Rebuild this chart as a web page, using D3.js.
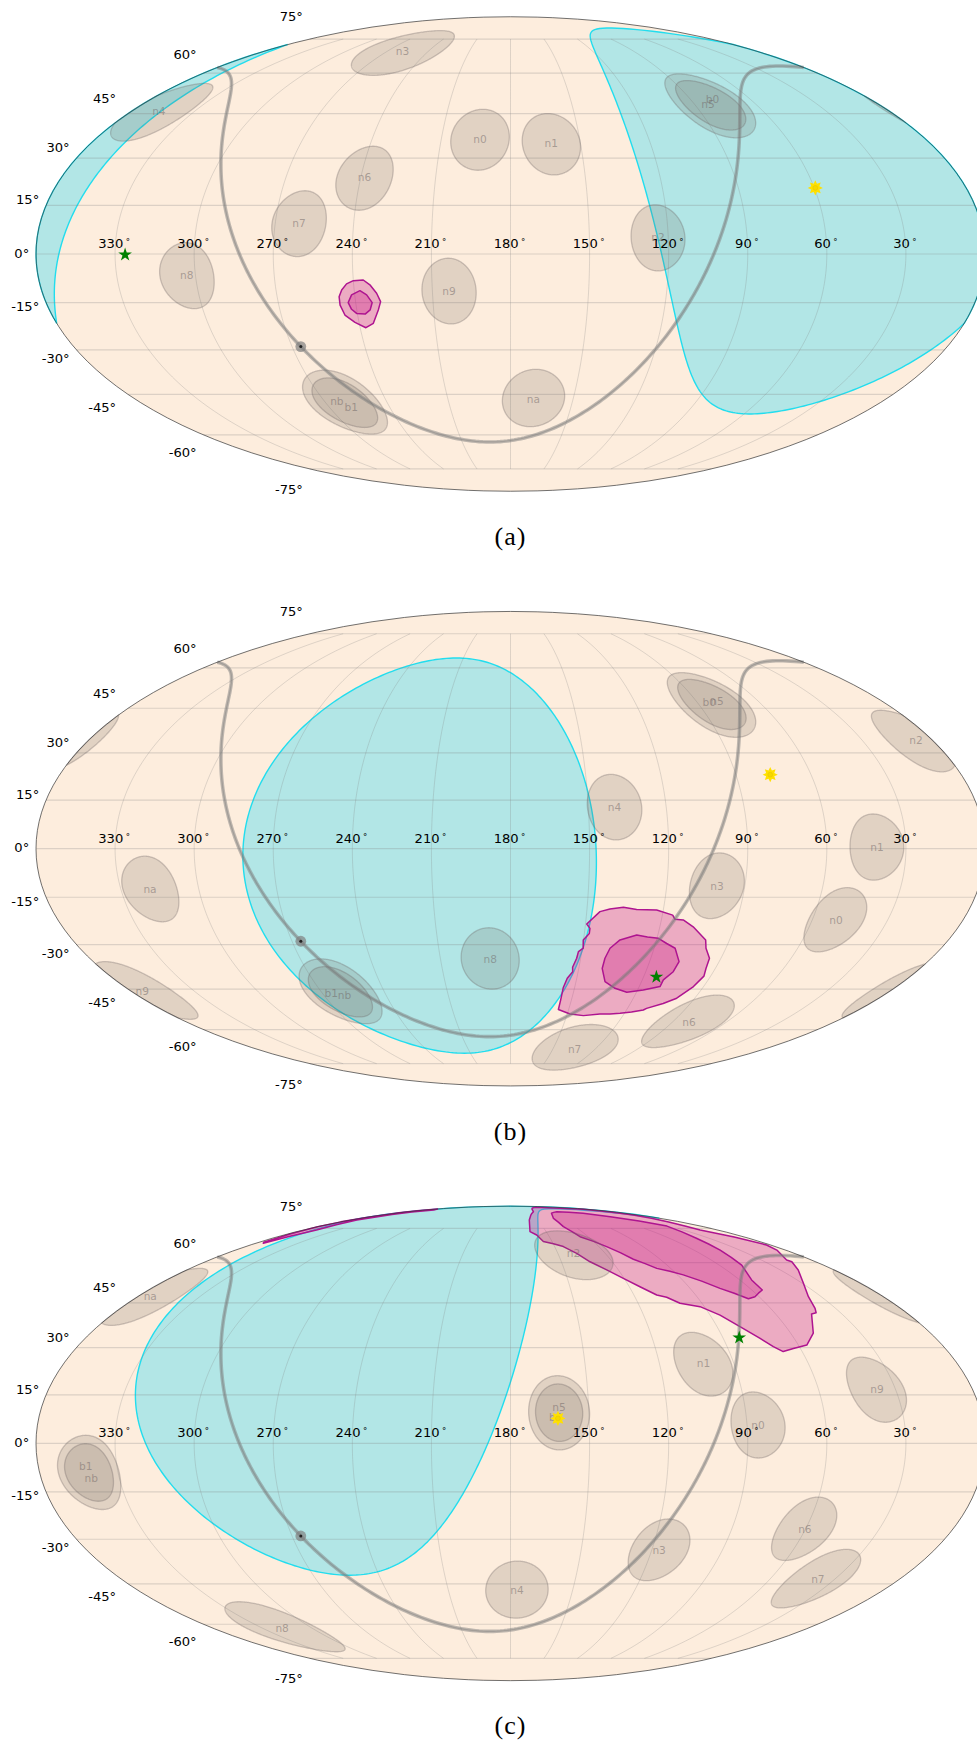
<!DOCTYPE html>
<html>
<head>
<meta charset="utf-8">
<script src="https://cdnjs.cloudflare.com/ajax/libs/d3/7.8.5/d3.min.js"></script>
<style>
  html, body { margin: 0; padding: 0; background: #ffffff; overflow: hidden; }
  svg { display: block; }
</style>
</head>
<body>
<svg id="chart" width="977" height="1743"></svg>
<script>
// Sky positions are all [RA, Dec] in degrees.
const detectorNames = ["n0","n1","n2","n3","n4","n5","n6","n7","n8","n9","na","nb"];
const detectorsA = [[193.2,36.3],[162.5,34.8],[123.9,5.0],[259.1,69.3],[347.0,45.8],[81.9,48.2],[238.5,23.7],[260.9,9.4],[303.3,-6.7],[203.6,-11.5],[169.0,-46.6],[261.1,-48.2]];
const detectorsB = [[50.5,-22.2],[41.0,0.5],[7.1,34.1],[100.7,-11.5],[139.9,12.9],[83.2,46.6],[80.4,-57.3],[134.5,-68.2],[188.7,-34.8],[354.9,-45.8],[318.8,-12.5],[261.3,-46.2]];
const detectorsC = [[85.8,5.7],[102.3,24.8],[140.2,63.6],[116.8,-33.7],[176.9,-47.4],[161.4,9.5],[60.2,-26.8],[37.6,-43.5],[318.2,-61.6],[37.2,16.7],[354.5,47.5],[341.2,-9.0]];

// n5 and nb sit on top of the two BGO circles, their labels are a bit apart.
const pairNames = ["n5","b0","nb","b1"];
const pairLabelsA = [[83.5,48.2],[78.8,50.2],[264.0,-47.4],[259.0,-49.4]];
const pairLabelsB = [[80.1,47.4],[84.3,47.0],[259.9,-47.0],[265.9,-46.6]];
const pairLabelsC = [[161.4,11.2],[162.7,8.1],[340.8,-10.7],[341.9,-7.0]];

// Earth occultation circles: RA, Dec, radius.
const earthA = [57, 14.5, 66.5];
const earthB = [214.5, -3, 67];
const earthC = [253.5, 25.5, 67.5];

const sunPositions = [[59.6,20.5],[76.3,23.0],[161.9,7.7]];
const sourcePositions = [[326.2,-0.2],[114.2,-40.8],[83.1,33.2]];

// Credible regions, 90% and 50%.
const contour90A = [[240.0,-8.2],[236.2,-8.0],[233.8,-9.5],[231.5,-12.1],[230.3,-14.7],[231.6,-17.3],[234.4,-21.5],[237.7,-22.9],[241.6,-21.2],[245.0,-18.9],[246.2,-15.8],[246.1,-13.2],[244.8,-11.1],[242.7,-9.2]];
const contour50A = [[237.8,-11.3],[235.4,-12.6],[233.6,-15.0],[234.8,-17.3],[237.0,-18.6],[240.3,-18.4],[242.0,-17.1],[242.9,-15.0],[241.2,-12.6]];
const contour90B = [[149.5,-23.4],[144.8,-19.5],[141.0,-18.7],[135.8,-18.1],[130.5,-18.8],[122.6,-19.0],[115.9,-20.6],[114.6,-21.9],[111.3,-22.1],[106.6,-24.3],[99.8,-28.5],[98.3,-31.2],[94.9,-34.5],[94.1,-37.9],[93.0,-40.5],[94.7,-44.1],[98.8,-48.2],[103.6,-50.1],[110.2,-51.9],[111.3,-52.5],[122.3,-53.7],[127.4,-54.0],[132.7,-54.0],[141.1,-54.6],[148.5,-54.0],[155.3,-52.3],[155.3,-48.8],[155.3,-44.4],[154.3,-41.2],[152.4,-39.0],[152.8,-37.5],[151.7,-34.5],[151.4,-32.3],[149.6,-31.2],[150.1,-28.5],[148.0,-26.4],[148.0,-24.8]];
const contour50B = [[138.4,-31.2],[135.0,-28.5],[128.6,-26.9],[119.4,-28.0],[111.2,-31.2],[107.3,-35.6],[107.8,-39.0],[110.4,-41.8],[110.3,-44.1],[117.3,-45.3],[124.6,-46.1],[131.0,-44.7],[136.7,-42.4],[139.7,-37.9],[139.6,-34.5]];
const contour90C = [[86.8,88.3],[41.3,87.4],[10.8,86.5],[7.8,82.5],[15.5,74.2],[2.8,67.3],[5.7,65.1],[14.9,61.0],[14.1,60.3],[20.0,57.1],[29.5,52.0],[36.2,47.2],[39.5,43.1],[41.1,41.6],[43.7,41.2],[50.3,34.7],[56.5,30.8],[62.9,29.7],[67.8,28.7],[70.8,30.3],[74.4,33.0],[80.0,36.9],[85.5,40.8],[92.0,43.7],[100.3,44.9],[104.8,47.0],[108.9,47.8],[114.6,50.8],[120.4,53.9],[126.5,57.1],[133.1,60.3],[138.1,63.7],[144.1,66.6],[156.3,68.8],[159.2,71.8],[163.6,73.4],[158.8,79.5],[139.6,84.7]];
const contour50C = [[116.1,83.6],[98.3,84.7],[66.9,83.6],[51.8,81.4],[32.1,76.2],[39.6,70.3],[42.8,65.1],[47.0,59.0],[53.8,53.3],[54.8,49.6],[62.0,47.2],[66.1,46.5],[75.0,50.2],[86.9,55.2],[97.8,57.7],[106.1,61.3],[114.7,66.6],[126.3,71.0],[130.7,75.9],[128.6,80.4]];
// The 90% region of (c) wraps over the pole, this is the sliver on the far edge.
const contourWrapC = [[359.8,86.8],[359.8,81.0],[359.8,75.9],[356.6,68.5],[354.4,68.0],[348.3,74.2],[350.3,76.9],[353.3,79.5],[343.2,86.0]];

const galacticPole = [192.86, 27.13];
const galacticCenter = [266.4, -28.94];

const meridianTicks = [30,60,90,120,150,180,210,240,270,300,330];
const parallelTicks = [-75,-60,-45,-30,-15,0,15,30,45,60,75];
const captions = ["(a)","(b)","(c)"];

// Layout.
const centerX = 510.5;
const centerYs = [254, 848.7, 1443.4];
const sphereScale = 167.76;
const captionBaseline = 291;
const tickFont = "'DejaVu Sans'";

// d3 core has no Mollweide, so write the raw projection.
function mollweideRaw(lambda, phi) {
  let theta = phi;
  const target = Math.PI * Math.sin(phi);
  for (let i = 0; i < 30; i++) {
    const denom = 2 + 2 * Math.cos(2 * theta);
    if (Math.abs(denom) < 1e-9) break;
    const step = (2 * theta + Math.sin(2 * theta) - target) / denom;
    theta -= step;
    if (Math.abs(step) < 1e-9) break;
  }
  return [
    (2 * Math.SQRT2 / Math.PI) * lambda * Math.cos(theta),
    Math.SQRT2 * Math.sin(theta)
  ];
}

function smallRing(ring) {
  // Keep the small side of the ring as the inside of the polygon.
  const poly = { type: "Polygon", coordinates: [[...ring, ring[0]]] };
  if (d3.geoArea(poly) > 2 * Math.PI) poly.coordinates[0].reverse();
  return poly;
}

function circle(center, radius) {
  return d3.geoCircle().center(center).radius(radius).precision(1)();
}

function detectorRadius(name) {
  if (name === "n5" || name === "nb") return 11.5;
  return 10.2;
}

const svg = d3.select("#chart");

function drawPanel(index, detectors, pairLabels, earth, contour90, contour50, extra90) {
  const cy = centerYs[index];
  const projection = d3.geoProjection(mollweideRaw)
    .rotate([-180, 0])
    .reflectX(true)
    .scale(sphereScale)
    .translate([centerX, cy])
    .precision(0.2);
  const path = d3.geoPath(projection);
  const g = svg.append("g");

  // Map background.
  g.append("path")
    .attr("d", path({ type: "Sphere" }))
    .attr("fill", "#FDEDDD");

  // Earth occulted part of the sky.
  g.append("path")
    .attr("d", path(circle([earth[0], earth[1]], earth[2])))
    .attr("fill", "#B2E6E6")
    .attr("stroke", "#22DDEE")
    .attr("stroke-width", 1.4);

  // Grid: parallels are straight in this projection, meridians stop at 75 deg.
  parallelTicks.forEach(lat => {
    const a = projection([0.001, lat]);
    const b = projection([359.999, lat]);
    g.append("line")
      .attr("x1", a[0]).attr("y1", a[1])
      .attr("x2", b[0]).attr("y2", b[1])
      .attr("stroke", "#808080")
      .attr("stroke-opacity", 0.26)
      .attr("stroke-width", 1.2);
  });
  const meridianLine = d3.line();
  meridianTicks.forEach(ra => {
    const pts = d3.range(-75, 75.5, 1).map(lat => projection([ra, lat]));
    g.append("path")
      .attr("d", meridianLine(pts))
      .attr("fill", "none")
      .attr("stroke", "#808080")
      .attr("stroke-opacity", 0.32)
      .attr("stroke-width", 0.8);
  });

  // Credible regions.
  const regions = [contour90, contour50];
  if (extra90) regions.unshift(extra90);
  regions.forEach(ring => {
    g.append("path")
      .attr("d", path(smallRing(ring)))
      .attr("fill", "#C71585")
      .attr("fill-opacity", 0.3)
      .attr("stroke", "#AE1490")
      .attr("stroke-width", 1.5)
      .attr("stroke-linejoin", "round");
  });

  // Detector footprints.
  const drawFootprint = (center, radius) => {
    g.append("path")
      .attr("d", path(circle(center, radius)))
      .attr("fill", "#75685E")
      .attr("fill-opacity", 0.2)
      .attr("stroke", "#6E6464")
      .attr("stroke-opacity", 0.32)
      .attr("stroke-width", 1.3);
  };
  detectors.forEach((d, i) => drawFootprint(d, detectorRadius(detectorNames[i])));
  drawFootprint(detectors[detectorNames.indexOf("n5")], 8.9);
  drawFootprint(detectors[detectorNames.indexOf("nb")], 8.9);

  const drawLabel = (pos, name) => {
    const p = projection(pos);
    g.append("text")
      .attr("x", p[0])
      .attr("y", p[1])
      .attr("dy", "0.35em")
      .attr("text-anchor", "middle")
      .attr("font-family", tickFont)
      .attr("font-size", 10.6)
      .attr("fill", "#6E6464")
      .attr("fill-opacity", 0.5)
      .text(name);
  };
  detectorNames.forEach((name, i) => {
    if (!pairNames.includes(name)) drawLabel(detectors[i], name);
  });
  pairNames.forEach((name, i) => drawLabel(pairLabels[i], name));

  // Galactic plane as a great circle, with the galactic center on it.
  const plane = {
    type: "LineString",
    coordinates: circle(galacticPole, 90).coordinates[0]
  };
  g.append("path")
    .attr("d", path(plane))
    .attr("fill", "none")
    .attr("stroke", "#808080")
    .attr("stroke-opacity", 0.5)
    .attr("stroke-width", 3.6);
  g.append("path")
    .attr("d", path(plane))
    .attr("fill", "none")
    .attr("stroke", "#707070")
    .attr("stroke-opacity", 0.35)
    .attr("stroke-width", 1.3);
  const gc = projection(galacticCenter);
  g.append("circle")
    .attr("cx", gc[0]).attr("cy", gc[1]).attr("r", 5.4)
    .attr("fill", "#808080").attr("fill-opacity", 0.7);
  g.append("circle")
    .attr("cx", gc[0]).attr("cy", gc[1]).attr("r", 1.5)
    .attr("fill", "#222222");

  // Sun.
  const sun = projection(sunPositions[index]);
  const spikes = d3.range(16).map(i => [
    (i / 16) * 2 * Math.PI,
    i % 2 === 0 ? 7.6 : 4.4
  ]);
  g.append("path")
    .attr("transform", `translate(${sun[0]},${sun[1]})`)
    .attr("d", d3.lineRadial().curve(d3.curveLinearClosed)(spikes))
    .attr("fill", "#FFE000");
  g.append("circle")
    .attr("cx", sun[0]).attr("cy", sun[1]).attr("r", 2.4)
    .attr("fill", "#F6D800")
    .attr("stroke", "#E6C800")
    .attr("stroke-width", 0.6);

  // Source.
  const src = projection(sourcePositions[index]);
  g.append("path")
    .attr("transform", `translate(${src[0]},${src[1]})`)
    .attr("d", d3.symbol().type(d3.symbolStar).size(58)())
    .attr("fill", "#008000");

  // Sphere outline goes on top of the fills.
  g.append("path")
    .attr("d", path({ type: "Sphere" }))
    .attr("fill", "none")
    .attr("stroke", "#333333")
    .attr("stroke-width", 0.7);

  // RA labels along the equator.
  meridianTicks.forEach(ra => {
    const p = projection([ra, 0]);
    const t = g.append("text")
      .attr("x", p[0] - 1)
      .attr("y", p[1] - 6)
      .attr("text-anchor", "middle")
      .attr("font-family", tickFont)
      .attr("font-size", 13.1)
      .attr("fill", "#000000")
      .text(ra);
    t.append("tspan")
      .attr("dx", 2.4)
      .attr("dy", -3.2)
      .attr("font-size", 8.5)
      .text("°");
  });

  // Dec labels sit outside the left edge, a bit further out than their parallels.
  parallelTicks.forEach(lat => {
    const edge = projection([359.999, lat]);
    const pad = Math.abs(lat) === 45 ? 12 : 6.8;
    const lift = (cy - edge[1]) * 1.1;
    g.append("text")
      .attr("x", edge[0] - pad)
      .attr("y", cy - lift - 1)
      .attr("dy", "0.35em")
      .attr("text-anchor", "end")
      .attr("font-family", tickFont)
      .attr("font-size", 13.1)
      .attr("fill", "#000000")
      .text(`${lat}°`);
  });

  // Caption below the map.
  g.append("text")
    .attr("x", centerX)
    .attr("y", cy + captionBaseline)
    .attr("text-anchor", "middle")
    .attr("font-family", "'Liberation Serif'")
    .attr("font-size", 26)
    .attr("letter-spacing", 1)
    .attr("fill", "#000000")
    .text(captions[index]);
}

drawPanel(0, detectorsA, pairLabelsA, earthA, contour90A, contour50A, null);
drawPanel(1, detectorsB, pairLabelsB, earthB, contour90B, contour50B, null);
drawPanel(2, detectorsC, pairLabelsC, earthC, contour90C, contour50C, contourWrapC);
</script>
</body>
</html>
